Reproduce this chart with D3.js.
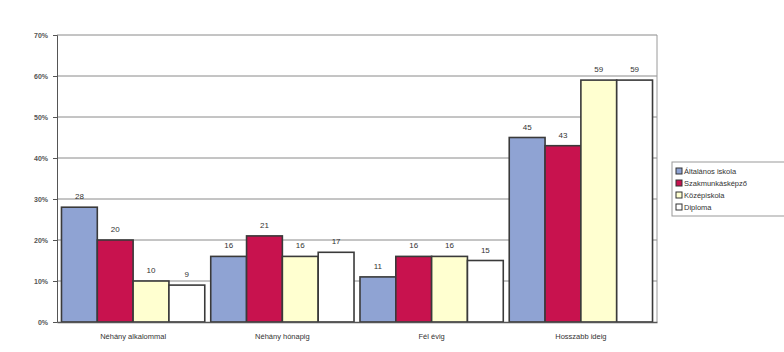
<!DOCTYPE html>
<html>
<head>
<meta charset="utf-8">
<script src="https://cdn.jsdelivr.net/npm/d3@7"></script>
<style>
  body { margin: 0; background: #fff; }
  svg { display: block; font-family: "Liberation Sans", Arial, sans-serif; }
</style>
</head>
<body>
<svg id="chart" width="784" height="352"></svg>
<script>
// data
const categories = ['Néhány alkalommal', 'Néhány hónapig', 'Fél évig', 'Hosszabb ideig'];
const seriesNames = ['Általános iskola', 'Szakmunkásképző', 'Középiskola', 'Diploma'];
const altalanos = [28, 16, 11, 45];
const szakmunkas = [20, 21, 16, 43];
const kozepiskola = [10, 16, 16, 59];
const diploma = [9, 17, 15, 59];
const yTicks = [0, 10, 20, 30, 40, 50, 60, 70];

const seriesValues = [altalanos, szakmunkas, kozepiskola, diploma];
const colors = ['#8fa3d3', '#c8124e', '#ffffd0', '#ffffff'];

const svg = d3.select('#chart');
const plot = { left: 57, right: 657, top: 35, bottom: 322 };

const x = d3.scaleBand().domain(categories).range([plot.left, plot.right])
    .paddingInner(0.04).paddingOuter(0.03);
const xs = d3.scaleBand().domain(seriesNames).range([0, x.bandwidth()]);
const y = d3.scaleLinear().domain([0, 70]).range([plot.bottom, plot.top]);

// gridlines
svg.append('g')
  .selectAll('line')
  .data(yTicks.slice(1))
  .enter().append('line')
    .attr('x1', plot.left).attr('x2', plot.right)
    .attr('y1', d => y(d)).attr('y2', d => y(d))
    .attr('stroke', '#8a8a8a').attr('stroke-width', 1);

// right border of plot area
svg.append('line')
  .attr('x1', plot.right).attr('x2', plot.right)
  .attr('y1', plot.top).attr('y2', plot.bottom)
  .attr('stroke', '#9a9a9a').attr('stroke-width', 1);

// bars
const groups = svg.append('g').selectAll('g')
  .data(categories)
  .enter().append('g')
    .attr('transform', d => `translate(${x(d)},0)`);

groups.selectAll('rect')
  .data((c, i) => seriesNames.map((s, j) => ({ s: s, v: seriesValues[j][i], j: j })))
  .enter().append('rect')
    .attr('x', d => xs(d.s))
    .attr('y', d => y(d.v))
    .attr('width', xs.bandwidth())
    .attr('height', d => y(0) - y(d.v))
    .attr('fill', d => colors[d.j])
    .attr('stroke', '#3a3a3a')
    .attr('stroke-width', 1.6);

groups.selectAll('text')
  .data((c, i) => seriesNames.map((s, j) => ({ s: s, v: seriesValues[j][i] })))
  .enter().append('text')
    .attr('x', d => xs(d.s) + xs.bandwidth() / 2)
    .attr('y', d => y(d.v) - 8)
    .attr('text-anchor', 'middle')
    .attr('font-size', 8)
    .attr('fill', '#333')
    .text(d => d.v);

// y axis
const yAxis = d3.axisLeft(y).tickValues(yTicks).tickSize(4).tickFormat(d => d + '%');
const ya = svg.append('g').attr('transform', `translate(${plot.left},0)`).call(yAxis);
ya.select('.domain').attr('stroke', '#555');
ya.selectAll('.tick line').attr('stroke', '#555');
ya.selectAll('.tick text').attr('font-size', 7).attr('font-weight', 'bold')
  .attr('fill', '#555').attr('x', -9);

// x axis
const xAxis = d3.axisBottom(x).tickSize(0);
const xa = svg.append('g').attr('transform', `translate(0,${plot.bottom})`).call(xAxis);
xa.select('.domain').attr('stroke', '#555').attr('stroke-width', 1.4);
xa.selectAll('.tick text').attr('font-size', 7.5).attr('fill', '#333').attr('dy', '1.9em');

// legend
const legend = svg.append('g').attr('transform', 'translate(672,162)');
legend.append('rect')
  .attr('x', 0).attr('y', 0).attr('width', 130).attr('height', 54)
  .attr('fill', '#fff').attr('stroke', '#999');
const li = legend.selectAll('g.item')
  .data(seriesNames)
  .enter().append('g')
    .attr('class', 'item')
    .attr('transform', (d, i) => `translate(4,${9 + i * 12})`);
li.append('rect')
  .attr('x', 0).attr('y', -3).attr('width', 6).attr('height', 6)
  .attr('fill', (d, i) => colors[i]).attr('stroke', '#333');
li.append('text')
  .attr('x', 8).attr('y', 3)
  .attr('font-size', 7.5).attr('fill', '#333')
  .text(d => d);
</script>
</body>
</html>
